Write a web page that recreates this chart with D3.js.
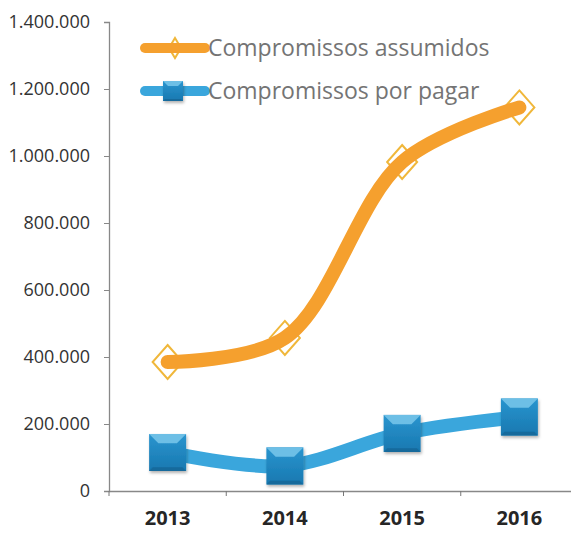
<!DOCTYPE html>
<html>
<head>
<meta charset="utf-8">
<style>
  body { margin: 0; background: #fff; }
  .tick text { font-family: "Open Sans", sans-serif; }
  .legend text { font: 23px "Open Sans", sans-serif; fill: #747474; }
</style>
<script src="https://d3js.org/d3.v7.min.js"></script>
</head>
<body>
<svg width="571" height="535"></svg>
<script>
var years = ["2013", "2014", "2015", "2016"];
var assumidos = [385000, 457000, 982000, 1145000];
var porPagar = [115000, 75000, 172000, 221000];
var yTicks = [0, 200000, 400000, 600000, 800000, 1000000, 1200000, 1400000];
var seriesNames = ["Compromissos assumidos", "Compromissos por pagar"];

var svg = d3.select("svg");
var fmt = d3.formatLocale({ decimal: ",", thousands: ".", grouping: [3], currency: ["", ""] }).format(",");

var x = d3.scaleBand().domain(years).range([109, 578]).padding(0);
var y = d3.scaleLinear().domain([0, 1400000]).range([491, 22]);
var cx = function (d, i) { return x(years[i]) + x.bandwidth() / 2; };

// gradient / shadow for the square markers
var defs = svg.append("defs");
var grad = defs.append("linearGradient").attr("id", "sq").attr("x1", 0).attr("y1", 0).attr("x2", 0).attr("y2", 1);
grad.append("stop").attr("offset", "0%").attr("stop-color", "#2a95cf");
grad.append("stop").attr("offset", "100%").attr("stop-color", "#1878b0");
var sh = defs.append("filter").attr("id", "shadow").attr("x", "-30%").attr("y", "-30%").attr("width", "160%").attr("height", "160%");
sh.append("feDropShadow").attr("dx", 1).attr("dy", 2).attr("stdDeviation", 1.5).attr("flood-color", "#000").attr("flood-opacity", 0.3);

// axes
var yAxis = svg.append("g").attr("transform", "translate(109,0)")
  .call(d3.axisLeft(y).tickValues(yTicks).tickFormat(fmt).tickSize(5).tickPadding(14));
yAxis.selectAll("text").attr("font-size", "18px").attr("fill", "#333");

var xAxis = svg.append("g").attr("transform", "translate(0,491)")
  .call(d3.axisBottom(x).tickSize(0).tickPadding(20));
xAxis.selectAll("text").attr("font-size", "20px").attr("font-weight", "bold").attr("fill", "#262626");
// ticks between categories
xAxis.selectAll(".sep").data(years).enter().append("line")
  .attr("x1", function (d) { return x(d); }).attr("x2", function (d) { return x(d); })
  .attr("y1", 0).attr("y2", 5).attr("stroke", "#777");
svg.selectAll(".domain").attr("stroke", "#888").attr("stroke-width", 1.3);
svg.selectAll(".tick line").attr("stroke", "#888");

var line = d3.line().x(cx).y(function (d) { return y(d); }).curve(d3.curveCatmullRom.alpha(0.5));

function diamond(g, w, h) {
  g.append("path")
    .attr("d", "M0," + (-h) + "L" + w + ",0L0," + h + "L" + (-w) + ",0Z")
    .attr("fill", "#fff").attr("stroke", "#f0b73a").attr("stroke-width", 2);
}
function square(g, s) {
  var h = s / 2, k = s * 0.25;
  g.attr("filter", "url(#shadow)");
  g.append("rect").attr("x", -h).attr("y", -h).attr("width", s).attr("height", s).attr("fill", "url(#sq)");
  g.append("path").attr("d", "M" + (-h) + "," + (-h) + "L" + h + "," + (-h) + "L" + (h - k) + "," + (-h + k) + "L" + (-h + k) + "," + (-h + k) + "Z")
    .attr("fill", "#6dbfe6");
  g.append("path").attr("d", "M" + (-h) + "," + h + "L" + h + "," + h + "L" + (h - k * 0.4) + "," + (h - k * 0.4) + "L" + (-h + k * 0.4) + "," + (h - k * 0.4) + "Z")
    .attr("fill", "#146a9c");
}

// orange series: diamonds below the line
svg.append("g").selectAll("g").data(assumidos).enter().append("g")
  .attr("transform", function (d, i) { return "translate(" + cx(d, i) + "," + y(d) + ")"; })
  .each(function () { diamond(d3.select(this), 15, 17); });
svg.append("path").datum(assumidos).attr("d", line)
  .attr("fill", "none").attr("stroke", "#f5a02e").attr("stroke-width", 14).attr("stroke-linecap", "round");

// blue series: squares over the line
svg.append("path").datum(porPagar).attr("d", line)
  .attr("fill", "none").attr("stroke", "#3aa6dc").attr("stroke-width", 14).attr("stroke-linecap", "round");
svg.append("g").selectAll("g").data(porPagar).enter().append("g")
  .attr("transform", function (d, i) { return "translate(" + cx(d, i) + "," + y(d) + ")"; })
  .each(function () { square(d3.select(this), 37); });

// legend
var legend = svg.append("g").attr("class", "legend");
var rows = legend.selectAll("g").data(seriesNames).enter().append("g")
  .attr("transform", function (d, i) { return "translate(145," + (48 + i * 43) + ")"; });
rows.each(function (d, i) {
  var g = d3.select(this);
  if (i === 0) {
    diamond(g.append("g").attr("transform", "translate(30,0)"), 6, 10);
    g.append("line").attr("x1", 0).attr("x2", 60).attr("stroke", "#f5a02e").attr("stroke-width", 10).attr("stroke-linecap", "round");
  } else {
    g.append("line").attr("x1", 0).attr("x2", 60).attr("stroke", "#3aa6dc").attr("stroke-width", 10).attr("stroke-linecap", "round");
    square(g.append("g").attr("transform", "translate(28,0)"), 20);
  }
  g.append("text").attr("x", 63).attr("y", 8).text(d);
});
</script>
</body>
</html>
